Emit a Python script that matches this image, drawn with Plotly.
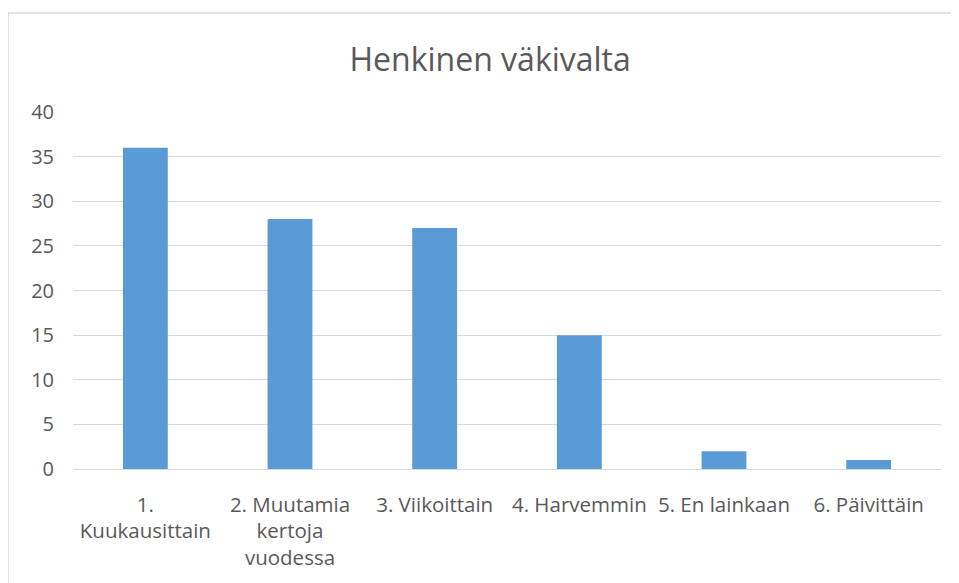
import plotly.graph_objects as go

categories = ["1.<br>Kuukausittain", "2. Muutamia<br>kertoja<br>vuodessa", "3. Viikoittain",
              "4. Harvemmin", "5. En lainkaan", "6. Päivittäin"]
values = [36, 28, 27, 15, 2, 1]
title_text = "Henkinen väkivalta"
ytick_vals = [0, 5, 10, 15, 20, 25, 30, 35, 40]

W, H = 951, 575
L, R, T, B = 65, 18, 104, 114
pw, ph = W - L - R, H - T - B

fig = go.Figure()
fig.add_trace(go.Bar(x=categories, y=values, marker=dict(color="#5B9BD5", line=dict(width=0)),
                     width=0.31))

fig.update_layout(
    width=W, height=H,
    margin=dict(l=L, r=R, t=T, b=B),
    paper_bgcolor="white", plot_bgcolor="white",
    font=dict(family="Open Sans", color="#595959", size=20),
    title=dict(text=title_text, x=0.507, xanchor="center", y=0.9096, yanchor="middle",
               font=dict(family="Open Sans", size=32, color="#595959")),
    showlegend=False,
    bargap=0.69,
)
fig.update_xaxes(showgrid=False, showline=False, zeroline=False, tickangle=0,
                 ticklabelstandoff=21, tickfont=dict(size=20.5, color="#595959"))
fig.update_yaxes(range=[0, 40], tickvals=ytick_vals, showgrid=True, gridcolor="#d9d9d9",
                 gridwidth=1.3, zeroline=True, zerolinecolor="#d9d9d9", zerolinewidth=1.3,
                 showline=False, ticklabelstandoff=18, tickfont=dict(size=20, color="#595959"))

# outer chart frame (page px: left 8, top 13; right/bottom run past the window)
fig.add_shape(type="rect", xref="paper", yref="paper",
              x0=(0 - L) / pw, x1=(W + 10 - L) / pw,
              y0=-(B + 20) / ph, y1=(ph + T - 5) / ph,
              line=dict(color="#d9d9d9", width=1.5), fillcolor="rgba(0,0,0,0)", layer="below")

fig.write_html("out.html")
